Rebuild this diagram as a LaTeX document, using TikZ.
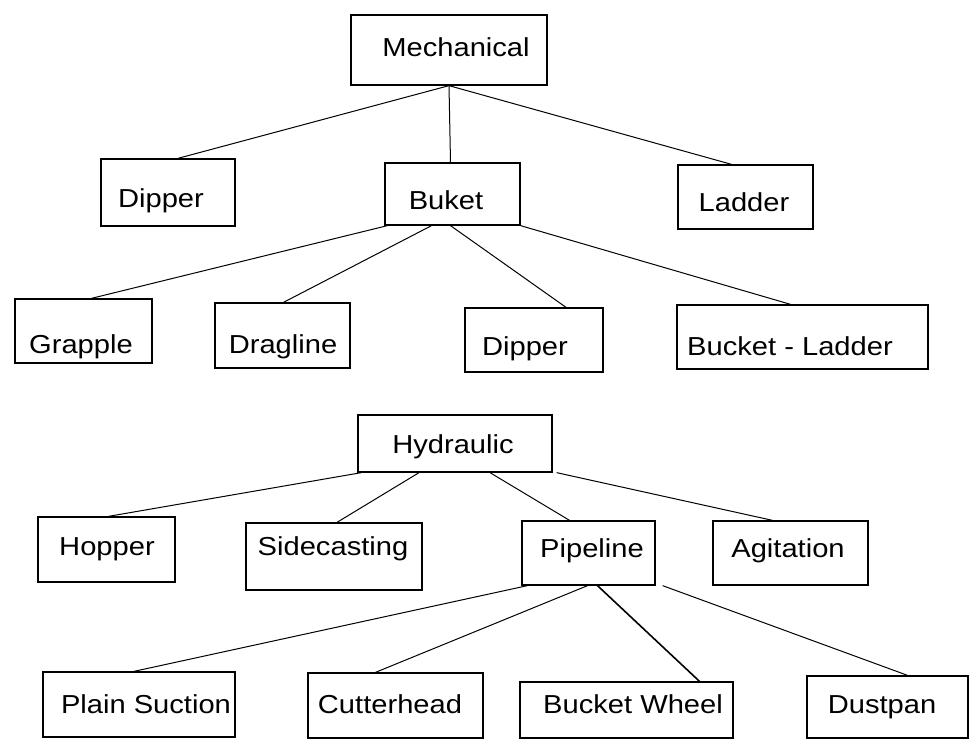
\documentclass[tikz,border=0pt]{standalone}
\usepackage{fontspec}
\setmainfont[FakeStretch=1.12]{Liberation Sans}
\begin{document}
\begin{tikzpicture}[x=1pt,y=-1pt,
  box/.style={draw=black,line width=1.3pt,rectangle,inner sep=0pt},
  lbl/.style={anchor=base,inner sep=0pt,font=\fontsize{26}{30}\selectfont},
  conn/.style={draw=black,line width=1pt},
  thickconn/.style={draw=black,line width=1.6pt}]
\useasboundingbox (0,0) rectangle (973,738);
\fill[white] (0,0) rectangle (973,738);
% level 0
\node[box,minimum width=196pt,minimum height=70pt] (mech) at (449,50) {};
\node[lbl] (mech-t) at (456,57) {Mechanical};
% level 1
\node[box,minimum width=134pt,minimum height=67pt] (dip1) at (168,192.5) {};
\node[lbl] (dip1-t) at (161,207) {Dipper};
\node[box,minimum width=135pt,minimum height=62pt] (buket) at (452.5,194) {};
\node[lbl] (buket-t) at (446,209) {Buket};
\node[box,minimum width=135pt,minimum height=64pt] (ladder) at (745.5,197) {};
\node[lbl] (ladder-t) at (744,211) {Ladder};
% level 2
\node[box,minimum width=137pt,minimum height=64pt] (grapple) at (83.5,331) {};
\node[lbl] (grapple-t) at (81,353) {Grapple};
\node[box,minimum width=135pt,minimum height=65pt] (dragline) at (282.5,335.5) {};
\node[lbl] (dragline-t) at (283,353) {Dragline};
\node[box,minimum width=138pt,minimum height=64pt] (dip2) at (534,340) {};
\node[lbl] (dip2-t) at (525,355) {Dipper};
\node[box,minimum width=251pt,minimum height=64pt] (bladder) at (802.5,337) {};
\node[lbl] (bladder-t) at (790,355) {Bucket - Ladder};
% hydraulic
\node[box,minimum width=194pt,minimum height=57pt] (hyd) at (455,443.5) {};
\node[lbl] (hyd-t) at (453,453) {Hydraulic};
\node[box,minimum width=137pt,minimum height=65pt] (hopper) at (106.5,549.5) {};
\node[lbl] (hopper-t) at (107,555) {Hopper};
\node[box,minimum width=176pt,minimum height=67pt] (side) at (334,556.5) {};
\node[lbl] (side-t) at (333,555) {Sidecasting};
\node[box,minimum width=133pt,minimum height=64pt] (pipe) at (588.5,553) {};
\node[lbl] (pipe-t) at (592,557) {Pipeline};
\node[box,minimum width=155pt,minimum height=64pt] (agit) at (790.5,553) {};
\node[lbl] (agit-t) at (788,557) {Agitation};
% bottom level
\node[box,minimum width=192pt,minimum height=65pt] (plain) at (139,704.5) {};
\node[lbl] (plain-t) at (146,713) {Plain Suction};
\node[box,minimum width=175pt,minimum height=65pt] (cutter) at (395.5,705.5) {};
\node[lbl] (cutter-t) at (390,713) {Cutterhead};
\node[box,minimum width=213pt,minimum height=56pt] (bwheel) at (626.5,710) {};
\node[lbl] (bwheel-t) at (633,713) {Bucket Wheel};
\node[box,minimum width=161pt,minimum height=62pt] (dust) at (887.5,707) {};
\node[lbl] (dust-t) at (882,713) {Dustpan};
% connectors: Mechanical
\draw[conn] (mech.south) -- ([xshift=10pt]dip1.north);
\draw[conn] (mech.south) -- ([xshift=-2pt]buket.north);
\draw[conn] (mech.south) -- ([xshift=-14pt]ladder.north);
% Buket
\draw[conn] ([xshift=3pt]buket.south west) -- ([xshift=8pt]grapple.north);
\draw[conn] ([xshift=-21pt]buket.south) -- ([xshift=1pt]dragline.north);
\draw[conn] ([xshift=-2pt]buket.south) -- ([xshift=32pt]dip2.north);
\draw[conn] (buket.south east) -- ([xshift=-12pt]bladder.north);
% Hydraulic
\draw[conn] ([xshift=4pt]hyd.south west) -- ([xshift=2pt]hopper.north);
\draw[conn] ([xshift=-36pt]hyd.south) -- ([xshift=3pt]side.north);
\draw[conn] ([xshift=35pt]hyd.south) -- ([xshift=-19pt]pipe.north);
\draw[conn] ([xshift=4pt]hyd.south east) -- ([xshift=-18pt]agit.north);
% Pipeline
\draw[conn] ([xshift=6pt]pipe.south west) -- ([xshift=-5pt]plain.north);
\draw[conn] ([xshift=-1pt]pipe.south) -- ([xshift=-20pt]cutter.north);
\draw[thickconn] ([xshift=9pt]pipe.south) -- ([xshift=73pt]bwheel.north);
\draw[conn] ([xshift=7pt]pipe.south east) -- ([xshift=20pt]dust.north);
\end{tikzpicture}
\end{document}
